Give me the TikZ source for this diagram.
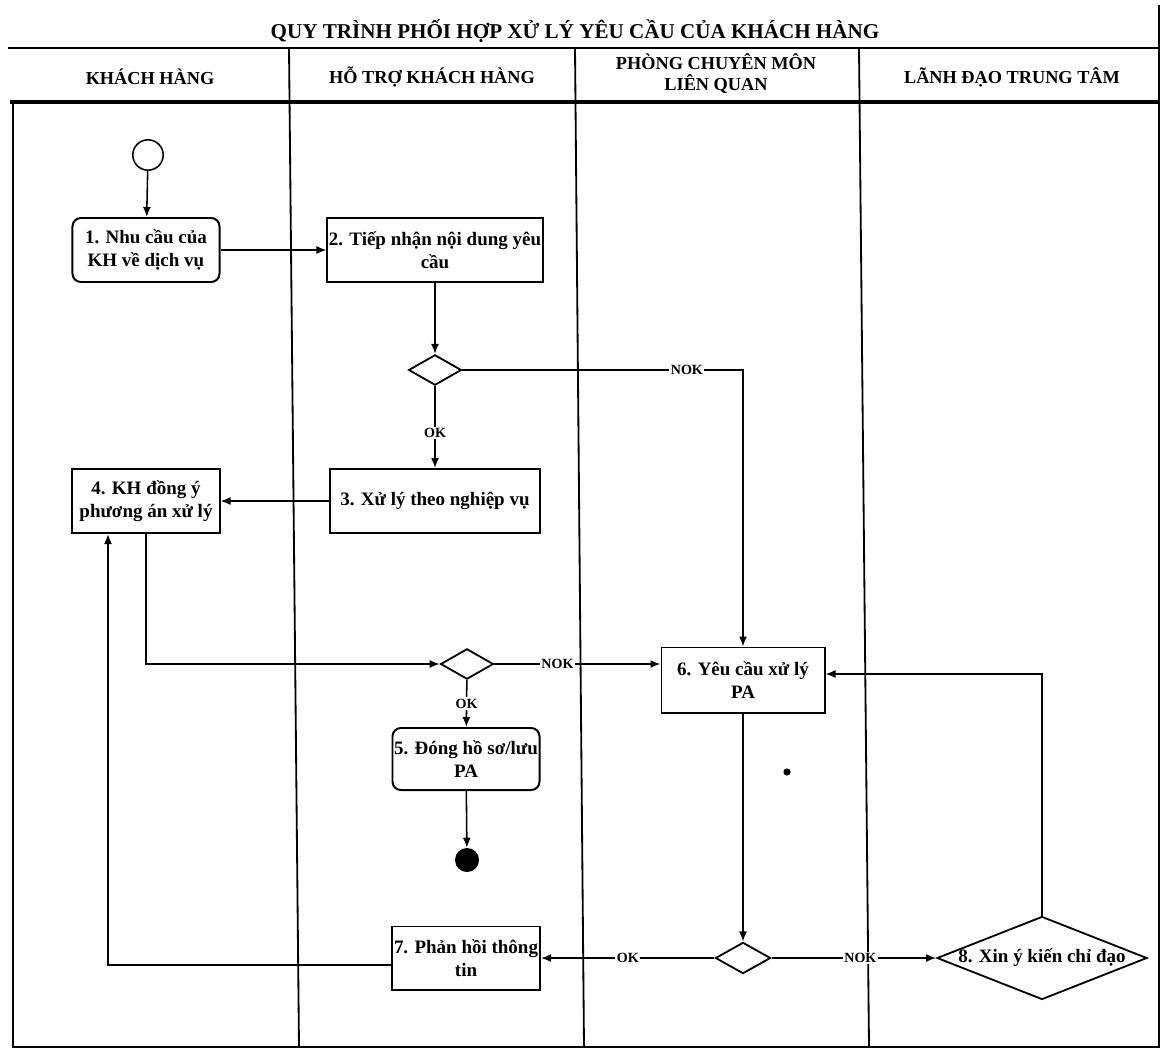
\documentclass[tikz,border=0pt]{standalone}
\usepackage{fontspec}
\setmainfont{Liberation Serif}
\usetikzlibrary{arrows.meta,positioning,shapes.geometric}

\begin{document}
\begin{tikzpicture}[
  x=0.025cm, y=-0.025cm,
  lane/.style={line width=1.3pt},
  task/.style={draw, line width=1.4pt, align=center, minimum height=1.6cm,
    inner sep=1pt, font=\fontsize{13.5}{16.5}\selectfont\bfseries},
  roundtask/.style={task, rounded corners=6pt},
  gate/.style={draw, diamond, line width=1.3pt, minimum width=1.32cm,
    minimum height=0.76cm, inner sep=0pt},
  flow/.style={-{Latex[length=2.5mm,width=2mm]}, line width=1.1pt},
  guard/.style={fill=white, inner sep=1pt, font=\fontsize{10}{12}\selectfont\bfseries},
  lanehead/.style={align=center, font=\fontsize{13}{15}\selectfont\bfseries}
]
  \useasboundingbox (0,0) rectangle (1162,1058);

  % title and lane headings
  \node[font=\fontsize{15}{18}\selectfont\bfseries] (title) at (575,31)
    {QUY TRÌNH PHỐI HỢP XỬ LÝ YÊU CẦU CỦA KHÁCH HÀNG};
  \node[lanehead] (hcustomer) at (150,77) {KHÁCH HÀNG};
  \node[lanehead] (hsupport) at (432,77) {HỖ TRỢ KHÁCH HÀNG};
  \node[lanehead] (hdept) at (716,74) {PHÒNG CHUYÊN MÔN\\LIÊN QUAN};
  \node[lanehead] (hlead) at (1012,77) {LÃNH ĐẠO TRUNG TÂM};

  % swimlane frame (the scan leans a little, so do the dividers)
  \draw[line width=1.5pt] (8,48) -- (1159,48);
  \draw[line width=2.2pt] (10,102) -- (1159,102);
  \draw[lane] (1159,5) -- (1159,1047) -- (13,1047) -- (13,102);
  \draw[lane] (289,48) -- (299,1047);
  \draw[lane] (575,48) -- (584,1047);
  \draw[lane] (859,48) -- (869,1047);

  % activities
  \node[circle, draw, line width=1.1pt, minimum size=0.76cm, inner sep=0pt] (start) at (148,155) {};
  \node[roundtask, minimum width=3.675cm] (need) at (146,250) {1. Nhu cầu của\\KH về dịch vụ};
  \node[task, minimum width=5.375cm] (receive) at (435,250) {2. Tiếp nhận nội dung yêu\\cầu};
  \node[gate] (check) at (435,370) {};
  \node[task, minimum width=5.25cm] (handle) at (435,501) {3. Xử lý theo nghiệp vụ};
  \node[task, minimum width=3.675cm] (agree) at (146,501) {4. KH đồng ý\\phương án xử lý};
  \node[gate] (accept) at (467,664) {};
  \node[roundtask, minimum width=3.675cm, minimum height=1.55cm] (close) at (466,759) {5. Đóng hồ sơ/lưu\\PA};
  \node[circle, fill, minimum size=0.6cm, inner sep=0pt] (stop) at (467,860) {};
  \node[task, minimum width=4.075cm, minimum height=1.625cm] (request) at (743,680) {6. Yêu cầu xử lý\\PA};
  \node[gate, minimum width=1.38cm, minimum height=0.78cm] (result) at (743,958) {};
  \node[task, minimum width=3.7cm, minimum height=1.575cm] (reply) at (466,958) {7. Phản hồi thông\\tin};
  \node[gate, minimum width=5.25cm, minimum height=2.075cm,
    label={[font=\fontsize{13.5}{16.5}\selectfont\bfseries]center:8. Xin ý kiến chỉ đạo}] (advice) at (1042,958) {};
  \fill (787,772) circle (0.09cm);

  % flows
  \draw[flow] (start) -- (need);
  \draw[flow] (need) -- (receive);
  \draw[flow] (receive) -- (check);
  \draw[flow] (check) -- node[guard, pos=0.57] {OK} (handle);
  \draw[flow] (check.east) -| node[guard, pos=0.4] {NOK} (request.north);
  \draw[flow] (handle) -- (agree);
  \draw[flow] (agree.south) |- (accept.west);
  \draw[flow] (accept.east) -- node[guard, pos=0.38] {NOK} (accept.east -| request.west);
  \draw[flow] (accept) -- node[guard] {OK} (close);
  \draw[flow] (close) -- (stop);
  \draw[flow] (request) -- (result);
  \draw[flow] (result) -- node[guard] {OK} (reply);
  \draw[flow] (result) -- node[guard, pos=0.54] {NOK} (advice);
  \draw[flow] (advice.north) |- ([yshift=0.15cm]request.east);
  \draw[flow] ([yshift=-0.175cm]reply.west) -| ([xshift=-0.95cm]agree.south);
\end{tikzpicture}
\end{document}
